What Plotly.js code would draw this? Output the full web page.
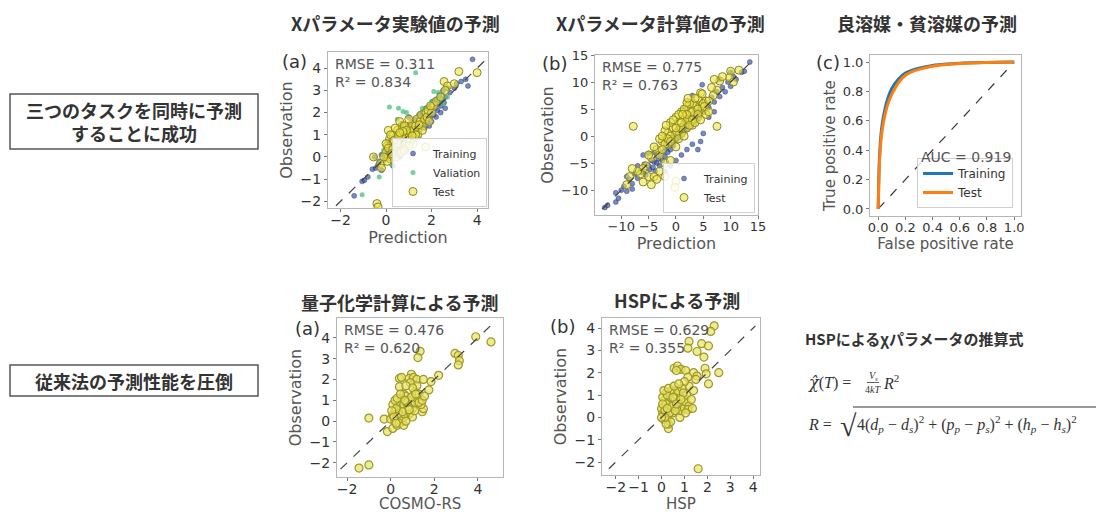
<!DOCTYPE html>
<html><head><meta charset="utf-8">
<script src="https://cdn.plot.ly/plotly-3.0.1.min.js"></script>
<style>html,body{margin:0;padding:0;background:#fff}#c{width:1096px;height:512px}</style>
</head><body><div id="c"></div>
<script>
// ---------- DATA ----------
// Panel (a) top: X parameter experimental values
const expTrainX = [-1.4,-1.05,-0.95,-0.6,-0.45,-0.3,-0.2,-0.1,0.0,0.05,0.1,0.15,0.2,0.25,0.3,0.35,0.4,0.45,0.5,0.55,0.6,0.65,0.7,0.75,0.8,0.85,0.9,0.95,1.0,1.05,1.1,1.15,1.2,1.25,1.3,1.35,1.4,1.45,1.5,1.55,1.6,1.65,1.7,1.75,1.8,1.85,1.9,1.95,2.0,2.05,2.1,2.15,2.2,2.25,2.3,2.35,2.4,2.45,2.5,2.55,2.6,2.7,2.8,3.0,3.3,3.5,3.6,3.8,0.3,0.6,0.9,1.2,1.7,2.2,0.1,0.4,0.7,-0.5,-0.2,2.0,2.4,2.6,1.0,3.1,0.2,0.5,-0.8,-0.35,1.4,1.9];
const expTrainY = [-1.75,-1.1,-1.05,-0.55,-0.5,-0.2,0.1,-0.15,0.1,0.3,-0.1,0.2,0.45,0.05,0.3,0.6,0.2,0.5,0.8,0.3,0.6,1.3,0.5,0.9,0.7,1.1,0.6,1.0,1.4,0.9,1.2,1.6,1.0,1.3,1.7,1.2,1.5,1.9,1.3,1.6,2.0,1.5,1.8,2.2,1.6,1.9,2.3,1.8,2.1,2.5,1.9,2.2,2.6,2.1,2.4,2.8,2.3,2.6,3.0,2.45,2.7,3.1,2.9,3.1,3.4,3.5,3.2,4.4,-0.4,0.0,0.3,0.7,1.3,1.8,0.7,1.0,1.5,0.0,-0.6,1.6,2.0,2.2,1.8,3.3,0.0,0.1,-0.9,-0.35,0.9,1.4];
const expValX = [1.3,0.15,0.55,0.75,0.9,0.5,2.3,2.35,2.1,-0.3,-1.05,0.25,0.6,1.0,1.5,1.8,2.5,0.0,0.3,1.2,2.7,-0.1,2.0,1.6];
const expValY = [3.8,2.25,2.2,2.05,2.0,1.7,2.9,2.6,2.95,-0.9,-1.7,-0.35,0.4,1.2,1.4,1.9,2.4,0.0,0.8,0.8,2.7,0.3,2.5,2.2];
const expTestX = [-0.4,-0.35,3.2,4.0,2.55,2.7,3.0,2.6,0.1,1.75,-0.55,-0.25,-0.2,0.0,0.05,0.1,0.15,0.2,0.25,0.3,0.35,0.4,0.45,0.5,0.55,0.6,0.65,0.7,0.75,0.8,0.85,0.9,0.95,1.0,1.05,1.1,1.15,1.2,1.25,1.3,1.35,1.4,1.5,1.55,1.6,1.7,1.75,1.8,1.85,1.9,2.0,2.1,0.0,0.2,0.4,0.6,0.8,1.0,0.1,0.3,0.5,0.7,0.9,0.2,0.45,0.65,0.85,1.2,1.4,1.6,0.35,0.55,0.75,1.0,1.3,0.05,-0.1,2.2,2.4,1.95,1.45,1.15,0.25,0.8,0.6];
const expTestY = [-2.1,-2.25,3.85,3.8,3.4,3.2,3.3,3.0,1.2,0.45,0.0,-0.3,-0.5,0.2,0.5,0.0,0.8,0.3,0.6,1.0,0.1,0.5,0.8,1.2,0.3,0.7,1.0,1.4,0.5,0.9,1.2,0.7,1.0,1.3,0.8,1.1,1.5,1.2,0.9,1.4,1.7,1.2,1.6,1.9,1.4,1.7,2.0,1.8,2.1,1.6,2.0,2.3,0.6,1.0,1.3,1.6,1.4,1.7,0.4,0.35,0.6,0.9,1.2,-0.1,0.0,0.2,0.5,0.6,1.0,1.2,0.75,0.95,1.15,0.5,1.0,-0.2,0.0,2.5,2.7,2.3,1.45,0.95,0.15,0.3,1.1];

// Panel (b) top: X parameter calculated values
const calcTrainX = [-13,-12.5,-11,-10,-9.5,-9,-8.5,-8,-7.5,-7,-6.5,-6,-5.8,-5.5,-5,-4.8,-4.5,-4.2,-4,-3.8,-3.5,-3.2,-3,-2.8,-2.5,-2.2,-2,-1.8,-1.5,-1.2,-1,-0.8,-0.5,-0.2,0,0.3,0.5,0.8,1,1.3,1.5,1.8,2,2.3,2.5,2.8,3,3.3,3.5,3.8,4,4.5,4.8,5,5.5,6,6.5,7,7.5,8,8.5,9,9.5,10,10.5,11,12,13.5,-6,-5,-4,-2,-1,0,1,2,3,4,4.5,5,-7,-9,6,7,8,3,1.5,-8,-11,-10.5,10,12.5];
const calcTrainY = [-13.2,-12.8,-10.5,-10,-9.3,-10.2,-8,-8.8,-7.0,-7.8,-6.5,-6.8,-5.2,-7.2,-5.5,-6.2,-4.5,-5.8,-4.8,-6.5,-5.0,-4.2,-5.5,-3.5,-4.5,-2.8,-3.8,-2.2,-3.0,-1.5,-2.5,-0.8,-1.8,0.0,-0.8,0.5,-0.3,1.0,0.3,1.5,0.8,2.2,1.2,2.8,1.8,3.3,2.3,3.8,2.8,4.5,3.2,5.2,9.5,4.5,6.2,5.3,7.2,6.3,8.2,7.3,9.0,8.2,10.0,9.2,11.0,10.5,11.8,13.7,-3.5,-3.2,-3.0,-6.5,-5.5,-4.5,-3.5,-2.5,-1.5,-2.5,-1.0,0.5,-5.5,-7.5,3.5,4.5,10.5,7.5,5.0,-9.8,-12.2,-11.5,11.8,12.0];
const calcTestX = [-7.8,7.5,-4.5,0.0,-0.2,11.5,10.0,9.8,10.5,8.0,7.5,6.8,6.5,5.5,5.0,4.5,4.0,3.5,3.0,2.5,2.0,1.5,1.0,0.5,0.0,-0.5,-1.0,-1.5,-2.0,-2.5,-3.0,-3.5,-4.0,-4.5,-5.0,-5.5,-6.0,-6.5,-7.0,-8.0,-8.5,-9.0,-5.0,-4.0,-3.0,-2.0,-1.0,0.0,1.0,2.0,3.0,4.0,5.0,0.5,1.5,2.5,3.5,-0.5,-1.5,0.0,1.0,2.0,3.0,4.0,-1.0,-2.0,0.5,1.5,2.5,3.5,4.5,-0.5,0.0,1.0,2.0,3.0,4.0,-3.0,-2.5,-1.5,0.5,1.5,-1.0,2.5,3.5,4.5,5.5,6.0,-6.0,-3.5,-2.0,7.0,8.5,4.8,5.2,6.0,1.2,2.0,2.2,-1.8,-2.5];
const calcTestY = [1.8,1.8,-9.0,-8.3,-9.5,12.2,12.0,10.8,10.0,10.2,8.5,7.5,9.0,6.5,4.8,5.5,7.0,5.5,6.0,4.5,5.5,3.5,4.5,2.5,3.5,1.5,2.5,0.5,1.0,-1.0,-0.5,-2.5,-2.0,-4.0,-3.5,-5.5,-6.0,-7.0,-6.5,-6.0,-7.5,-9.0,-7.5,-7.5,-6.5,-5.0,-4.5,-2.0,0.5,1.5,2.0,3.5,6.0,1.0,2.0,3.0,4.0,-0.5,-1.5,0.5,1.5,3.0,4.5,5.0,0.0,-1.5,4.0,5.0,6.0,7.0,8.0,3.0,1.5,2.5,4.0,3.0,4.0,-3.5,-2.5,-0.5,-0.5,0.0,-1.0,2.0,2.5,3.0,4.0,6.5,-8.5,-8.0,-7.5,10.5,11.0,7.8,5.5,4.5,4.0,6.2,7.0,2.0,0.0];

// Panel (c) top: ROC curves
const rocFpr = [0,0.005,0.01,0.02,0.03,0.05,0.07,0.1,0.15,0.2,0.25,0.3,0.4,0.5,0.6,0.8,1.0];
const rocTrainTpr = [0,0.22,0.36,0.5,0.58,0.68,0.75,0.82,0.885,0.925,0.945,0.958,0.976,0.986,0.992,0.997,1.0];
const rocTestTpr = [0,0.18,0.32,0.46,0.54,0.64,0.71,0.78,0.86,0.91,0.935,0.95,0.972,0.983,0.99,0.997,1.0];

// Panel (a) bottom: COSMO-RS
const cosmoX = [-1.45,-1.0,3.9,4.6,1.35,1.25,2.95,3.1,3.15,3.1,-1.0,0.4,0.5,0.95,0.85,1.05,1.2,1.5,1.85,2.2,1.75,1.2,0.9,1.1,1.0,0.4,0.7,-0.3,-0.15,0.1,0.3,1.45,1.5,0.0,0.1,0.2,0.3,0.4,0.5,0.6,0.7,0.8,0.9,1.0,1.1,1.2,1.3,1.4,0.2,0.3,0.4,0.5,0.6,0.7,0.8,0.9,1.0,0.1,0.2,0.3,0.6,0.5,0.4,0.6,0.8,1.1,1.3,0.35,0.55,0.75,0.95,1.15,0.25,0.45,0.65,0.05,1.45,1.55,0.15,0.85,0.7,0.25];
const cosmoY = [-2.25,-2.1,4.05,3.8,3.35,3.05,3.25,3.15,2.9,2.7,0.15,2.05,2.1,2.25,2.05,2.1,2.0,2.0,1.9,2.2,1.5,1.7,1.85,1.4,1.6,1.65,1.7,0.1,-0.5,-0.35,-0.2,0.45,0.6,0.1,0.3,0.5,0.7,0.9,1.1,1.3,1.2,1.0,0.8,0.6,0.9,1.1,1.3,0.8,0.0,0.2,0.4,0.6,0.8,0.5,0.3,0.4,0.2,0.8,1.0,1.1,0.2,0.0,-0.1,-0.2,0.7,0.5,0.9,0.35,0.45,0.9,1.15,1.3,0.6,1.3,1.0,0.5,1.0,1.2,0.2,0.55,0.0,-0.1];

// Panel (b) bottom: HSP
const hspX = [2.3,2.15,1.2,1.15,1.75,2.05,1.55,1.85,0.55,0.7,0.85,0.65,1.05,1.4,1.55,1.9,1.95,2.5,2.05,1.6,0.3,0.3,0.8,1.15,1.5,1.2,1.0,0.05,0.1,0.15,0.2,0.25,0.3,0.35,0.4,0.45,0.5,0.55,0.6,0.65,0.7,0.75,0.8,0.85,0.9,0.95,1.0,1.05,1.1,1.2,1.3,1.4,0.0,0.05,0.1,0.15,0.2,0.25,0.35,0.45,0.5,0.6,0.7,0.9,1.15,1.35,0.4,0.2,0.05,0.1,0.3,0.55,0.75,0.95,1.05,0.65,0.85,0.25,0.15,0.0];
const hspY = [4.1,3.85,3.4,3.1,3.3,3.2,2.95,2.7,2.2,2.3,2.15,2.1,2.1,2.0,1.85,2.2,1.95,2.0,1.5,-2.3,-0.5,-0.3,0.0,1.8,1.7,1.4,1.6,0.2,0.5,0.8,1.1,0.0,0.3,0.6,0.9,1.2,0.2,0.5,0.8,1.0,0.4,0.7,1.1,0.3,0.6,0.9,0.4,0.7,1.0,0.5,0.8,1.2,0.4,0.9,-0.1,0.3,0.6,1.0,0.2,0.5,0.9,0.3,1.2,1.3,0.35,0.4,-0.2,-0.3,0.6,1.2,1.3,1.4,1.5,1.1,0.2,0.6,0.8,0.4,0.0,0.0];

// identity reference lines (endpoints)
const diagExp = [-2.2, 4.4];
const diagCalc = [-13.5, 13.5];
const diagRoc = [0, 1];
const diagCosmo = [-2.3, 4.6];
const diagHsp = [-2.3, 4.1];

// texts
const titles = ['Xパラメータ実験値の予測','Xパラメータ計算値の予測','良溶媒・貧溶媒の予測','量子化学計算による予測','HSPによる予測'];
const stats = [['RMSE = 0.311','R² = 0.834'],['RMSE = 0.775','R² = 0.763'],['RMSE = 0.476','R² = 0.620'],['RMSE = 0.629','R² = 0.355']];

// ---------- LAYOUT HELPERS ----------
const W = 1096, H = 512;
const px = x => x / W, py = y => 1 - y / H;
const JP = '"Noto Sans CJK JP", "Noto Sans", sans-serif';
const SANS = '"DejaVu Sans", sans-serif';
const SERIF = '"Liberation Serif", "DejaVu Serif", serif';

function axis(x0, x1, range, dtick, anchor, title, fmt, tsize) {
  return {
    domain: [x0, x1], range: range, dtick: dtick, tick0: 0, anchor: anchor,
    showline: true, mirror: true, linecolor: '#b5b5b5', linewidth: 1,
    ticks: 'outside', ticklen: 3, tickcolor: '#777', showgrid: false, zeroline: false,
    tickfont: {family: SANS, size: 14, color: '#333'}, tickformat: fmt || '', ticklabelstandoff: -4,
    title: {text: title, font: {family: SANS, size: tsize || 16, color: '#555'}, standoff: 3}
  };
}
function yax(y0, y1, range, dtick, anchor, title, fmt, tsize) {
  const a = axis(0, 1, range, dtick, anchor, title, fmt, tsize);
  a.domain = [y0, y1];
  a.ticklabelstandoff = 0;
  return a;
}

const blue = {size: 5, color: 'rgba(45,75,165,0.65)', line: {width: 0.6, color: 'rgba(25,35,90,0.6)'}};
const green = {size: 5, color: 'rgba(70,195,120,0.75)', line: {width: 0}};
const yellow = {size: 8, color: 'rgba(236,228,70,0.6)', line: {width: 1, color: '#8c8720'}};
const yellow2 = {size: 8, color: 'rgba(232,226,100,0.7)', line: {width: 1.2, color: '#9e9828'}};
const dline = {color: '#444', width: 1.2, dash: 'dash'};

const traces = [
  {x: expTrainX, y: expTrainY, type: 'scatter', mode: 'markers', name: 'Training', marker: blue, xaxis: 'x', yaxis: 'y', legend: 'legend'},
  {x: expValX, y: expValY, type: 'scatter', mode: 'markers', name: 'Valiation', marker: green, xaxis: 'x', yaxis: 'y', legend: 'legend'},
  {x: expTestX, y: expTestY, type: 'scatter', mode: 'markers', name: 'Test', marker: yellow, xaxis: 'x', yaxis: 'y', legend: 'legend'},
  {x: diagExp, y: diagExp, type: 'scatter', mode: 'lines', line: dline, showlegend: false, xaxis: 'x', yaxis: 'y', hoverinfo: 'skip'},

  {x: calcTrainX, y: calcTrainY, type: 'scatter', mode: 'markers', name: 'Training', marker: blue, xaxis: 'x2', yaxis: 'y2', legend: 'legend2'},
  {x: calcTestX, y: calcTestY, type: 'scatter', mode: 'markers', name: 'Test', marker: yellow, xaxis: 'x2', yaxis: 'y2', legend: 'legend2'},
  {x: diagCalc, y: diagCalc, type: 'scatter', mode: 'lines', line: dline, showlegend: false, xaxis: 'x2', yaxis: 'y2', hoverinfo: 'skip'},

  {x: diagRoc, y: diagRoc, type: 'scatter', mode: 'lines', line: {color: '#333', width: 1.2, dash: 'dash'}, showlegend: false, xaxis: 'x3', yaxis: 'y3', hoverinfo: 'skip'},
  {x: rocFpr, y: rocTrainTpr, type: 'scatter', mode: 'lines', name: 'Training', line: {color: '#1f77b4', width: 3, shape: 'spline'}, xaxis: 'x3', yaxis: 'y3', legend: 'legend3'},
  {x: rocFpr, y: rocTestTpr, type: 'scatter', mode: 'lines', name: 'Test', line: {color: '#ff7f0e', width: 3, shape: 'spline'}, xaxis: 'x3', yaxis: 'y3', legend: 'legend3'},

  {x: cosmoX, y: cosmoY, type: 'scatter', mode: 'markers', marker: yellow2, showlegend: false, xaxis: 'x4', yaxis: 'y4'},
  {x: diagCosmo, y: diagCosmo, type: 'scatter', mode: 'lines', line: dline, showlegend: false, xaxis: 'x4', yaxis: 'y4', hoverinfo: 'skip'},

  {x: hspX, y: hspY, type: 'scatter', mode: 'markers', marker: yellow2, showlegend: false, xaxis: 'x5', yaxis: 'y5'},
  {x: diagHsp, y: diagHsp, type: 'scatter', mode: 'lines', line: dline, showlegend: false, xaxis: 'x5', yaxis: 'y5', hoverinfo: 'skip'}
];

const legendBase = {bgcolor: 'rgba(255,255,255,0.85)', bordercolor: '#cfcfcf', borderwidth: 1,
  font: {family: SANS, size: 11, color: '#333'}, xanchor: 'right', yanchor: 'bottom', tracegroupgap: 0, itemwidth: 30};

const ann = [];
function txt(x, y, text, size, opts) {
  ann.push(Object.assign({x: px(x), y: py(y), xref: 'paper', yref: 'paper', text: text, showarrow: false,
    font: {family: JP, size: size, color: '#333'}, xanchor: 'center', yanchor: 'middle'}, opts || {}));
}
// titles
txt(395, 23, '<b>' + titles[0] + '</b>', 18);
txt(660, 23, '<b>' + titles[1] + '</b>', 18);
txt(927, 23, '<b>' + titles[2] + '</b>', 18);
txt(399, 302, '<b>' + titles[3] + '</b>', 18);
txt(677, 300, '<b>' + titles[4] + '</b>', 18);
// panel letters
const lab = {family: SANS, size: 18, color: '#333'};
txt(294, 61, '(a)', 18, {font: lab});
txt(554, 63, '(b)', 18, {font: lab});
txt(828, 62, '(c)', 18, {font: lab});
txt(307, 328, '(a)', 18, {font: lab});
txt(562, 326, '(b)', 18, {font: lab});
// stats
['x', 'x2', 'x4', 'x5'].forEach((a, i) => {
  const yy = a.replace('x', 'y');
  ann.push({xref: a + ' domain', yref: yy + ' domain', x: 0.03, y: 0.99, xanchor: 'left', yanchor: 'top', showarrow: false,
    align: 'left', text: stats[i][0] + '<br>' + stats[i][1], font: {family: SANS, size: 14, color: '#555'}});
});
txt(1013, 157, 'AUC = 0.919', 14, {xanchor: 'right', font: {family: SANS, size: 14, color: '#555'}});
// ROC y-axis title (placed below the panel letter)
txt(830, 146, 'True positive rate', 15, {textangle: -90, font: {family: SANS, size: 15, color: '#555'}});
// bottom x-axis titles (kept inside the picture)
txt(420, 504, 'COSMO-RS', 15, {font: {family: SANS, size: 15, color: '#555'}});
txt(681, 504, 'HSP', 15, {font: {family: SANS, size: 15, color: '#555'}});
// left boxes
txt(134, 121, '<b>三つのタスクを同時に予測<br>することに成功</b>', 18);
txt(134, 381, '<b>従来法の予測性能を圧倒</b>', 18);
// formula block
txt(803, 338, '<b>HSPによるχパラメータの推算式</b>', 15, {xanchor: 'left'});
const fm = {family: SERIF, size: 16, color: '#333'};
txt(806, 382, '<span style="font-family:\'DejaVu Serif\'"><i>χ̂</i></span>(<i>T</i>) = ', 16, {xanchor: 'left', font: fm});
txt(873, 376, '<i>V<sub>s</sub></i>', 10, {font: {family: SERIF, size: 10, color: '#333'}});
txt(873, 389, '4<i>kT</i>', 10, {font: {family: SERIF, size: 10, color: '#333'}});
txt(881, 382, '<i>R</i><sup>2</sup>', 16, {xanchor: 'left', font: fm});
txt(806, 424, '<i>R</i> = ', 16, {xanchor: 'left', font: fm});
txt(838, 425, '√', 28, {xanchor: 'left', font: {family: SERIF, size: 30, color: '#333'}});
txt(855, 424, '4(<i>d<sub>p</sub></i> − <i>d<sub>s</sub></i>)<sup>2</sup> + (<i>p<sub>p</sub></i> − <i>p<sub>s</sub></i>)<sup>2</sup> + (<i>h<sub>p</sub></i> − <i>h<sub>s</sub></i>)<sup>2</sup>', 16, {xanchor: 'left', font: fm});

const shapes = [
  {type: 'rect', xref: 'paper', yref: 'paper', x0: px(10), x1: px(258), y0: py(149), y1: py(94), line: {color: '#555', width: 1.5}},
  {type: 'rect', xref: 'paper', yref: 'paper', x0: px(10), x1: px(258), y0: py(396), y1: py(365), line: {color: '#555', width: 1.5}},
  {type: 'line', xref: 'paper', yref: 'paper', x0: px(867), x1: px(879), y0: py(382.5), y1: py(382.5), line: {color: '#333', width: 0.8}},
  {type: 'line', xref: 'paper', yref: 'paper', x0: px(853), x1: px(1100), y0: py(407), y1: py(407), line: {color: '#333', width: 1}}
];

const layout = {
  width: W, height: H, margin: {l: 0, r: 0, t: 0, b: 0}, paper_bgcolor: '#fff', plot_bgcolor: '#fff',
  showlegend: true,
  xaxis: axis(px(328), px(488), [-2.55, 4.48], 2, 'y', 'Prediction'),
  yaxis: yax(py(208), py(52), [-2.3, 4.73], 1, 'x', 'Observation'),
  xaxis2: axis(px(595), px(758), [-14.8, 15.0], 5, 'y2', 'Prediction'),
  yaxis2: yax(py(215), py(55), [-14.6, 15.0], 5, 'x2', 'Observation'),
  xaxis3: axis(px(870), px(1021), [-0.06, 1.05], 0.2, 'y3', 'False positive rate', '.1f', 15),
  yaxis3: yax(py(216), py(55), [-0.048, 1.048], 0.2, 'x3', '', '.1f', 15),
  xaxis4: axis(px(337), px(503), [-2.46, 5.15], 2, 'y4', ''),
  yaxis4: yax(py(477), py(318), [-2.68, 4.95], 1, 'x4', 'Observation'),
  xaxis5: axis(px(602), px(760), [-2.6, 4.3], 1, 'y5', ''),
  yaxis5: yax(py(475), py(318), [-2.58, 4.45], 1, 'x5', 'Observation'),
  legend: Object.assign({}, legendBase, {x: px(487), y: py(207)}),
  legend2: Object.assign({}, legendBase, {x: px(755), y: py(213)}),
  legend3: Object.assign({}, legendBase, {x: px(1013), y: py(208), font: {family: SANS, size: 12, color: '#333'}}),
  annotations: ann, shapes: shapes
};
['xaxis2', 'yaxis2', 'xaxis3', 'yaxis3'].forEach(k => layout[k].tickfont.size = 13);

Plotly.newPlot('c', traces, layout, {staticPlot: true, displayModeBar: false});
</script></body></html>
